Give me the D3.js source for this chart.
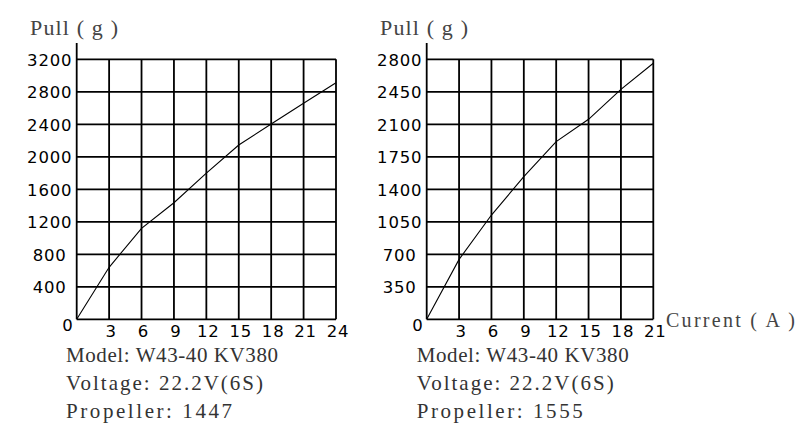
<!DOCTYPE html>
<html><head><meta charset="utf-8">
<script src="https://cdn.jsdelivr.net/npm/d3@7"></script>
<style>html,body{margin:0;padding:0;background:#fff;}svg{display:block;}</style>
</head><body><svg id="c" width="802" height="439"></svg>
<script>
// ---- data ----
const currentA = [0, 3, 6, 9, 12, 15, 18, 21, 24];
const pullA = [0, 640, 1120, 1435, 1800, 2145, 2404, 2658, 2912];
const xTicksA = [3, 6, 9, 12, 15, 18, 21, 24];
const yTicksA = [400, 800, 1200, 1600, 2000, 2400, 2800, 3200];
const infoA = ["Model: W43-40 KV380", "Voltage: 22.2V(6S)", "Propeller: 1447"];

const currentB = [0, 3, 6, 9, 12, 15, 18, 21];
const pullB = [0, 645, 1123, 1536, 1913, 2154, 2477, 2757];
const xTicksB = [3, 6, 9, 12, 15, 18, 21];
const yTicksB = [350, 700, 1050, 1400, 1750, 2100, 2450, 2800];
const infoB = ["Model: W43-40 KV380", "Voltage: 22.2V(6S)", "Propeller: 1555"];

const yTitle = "Pull ( g )";
const xTitle = "Current ( A )";

const svg = d3.select("#c");
const plotTop = 59.3, plotBottom = 319.3;
const tickFont = "'DejaVu Sans', sans-serif";
const textFont = "'Liberation Serif', serif";
const infoWidths = [212, 197, 166];

function chart(cfg) {
  const x = d3.scaleLinear().domain([0, cfg.xMax]).range([cfg.left, cfg.right]);
  const y = d3.scaleLinear().domain([0, cfg.yMax]).range([plotBottom, plotTop]);
  const g = svg.append("g");
  g.selectAll(".vg").data(cfg.xTicks).join("line")
    .attr("x1", d => x(d)).attr("x2", d => x(d))
    .attr("y1", plotTop).attr("y2", plotBottom)
    .attr("stroke", "#000").attr("stroke-width", 1.8);
  g.selectAll(".hg").data([0].concat(cfg.yTicks)).join("line")
    .attr("x1", cfg.left).attr("x2", cfg.right)
    .attr("y1", d => y(d)).attr("y2", d => y(d))
    .attr("stroke", "#000").attr("stroke-width", 1.8);
  g.append("line").attr("x1", cfg.left).attr("x2", cfg.left)
    .attr("y1", 43).attr("y2", plotBottom)
    .attr("stroke", "#000").attr("stroke-width", 1.8);
  g.selectAll(".yl").data(cfg.yTicks).join("text")
    .attr("x", cfg.left - 27).attr("y", d => y(d) + 6.5)
    .attr("text-anchor", "middle")
    .attr("font-family", tickFont).attr("font-size", 16.5)
    .attr("letter-spacing", 0.8)
    .attr("fill", "#000").text(d => d);
  g.append("text").attr("x", cfg.left - 4).attr("y", plotBottom + 12)
    .attr("text-anchor", "end")
    .attr("font-family", tickFont).attr("font-size", 16.5)
    .attr("fill", "#000").text("0");
  g.selectAll(".xl").data(cfg.xTicks).join("text")
    .attr("x", d => x(d) + 2).attr("y", plotBottom + 18)
    .attr("text-anchor", "middle")
    .attr("font-family", tickFont).attr("font-size", 16.5)
    .attr("letter-spacing", 0.8)
    .attr("fill", "#000").text(d => d);
  const line = d3.line().x(d => x(d[0])).y(d => y(d[1]));
  g.append("path").datum(cfg.xs.map((v, i) => [v, cfg.ys[i]]))
    .attr("d", line).attr("fill", "none")
    .attr("stroke", "#000").attr("stroke-width", 1.1);
  g.append("text").attr("x", cfg.titleX).attr("y", 35)
    .attr("font-family", textFont).attr("font-size", 22)
    .attr("textLength", 88).attr("lengthAdjust", "spacing")
    .attr("fill", "#444").text(yTitle);
  g.selectAll(".info").data(cfg.info).join("text")
    .attr("x", cfg.infoX).attr("y", (d, i) => [362, 390, 417.5][i])
    .attr("font-family", textFont).attr("font-size", 21)
    .attr("textLength", (d, i) => infoWidths[i]).attr("lengthAdjust", "spacing")
    .attr("fill", "#333").text(d => d);
  return x;
}

chart({left: 76.7, right: 336, xMax: 24, yMax: 3200, xTicks: xTicksA, yTicks: yTicksA,
  xs: currentA, ys: pullA, info: infoA, titleX: 30, infoX: 66});
chart({left: 426.7, right: 653.3, xMax: 21, yMax: 2800, xTicks: xTicksB, yTicks: yTicksB,
  xs: currentB, ys: pullB, info: infoB, titleX: 380, infoX: 416.7});

svg.append("text").attr("x", 666).attr("y", 327)
  .attr("font-family", textFont).attr("font-size", 20)
  .attr("textLength", 129).attr("lengthAdjust", "spacing")
  .attr("fill", "#444").text(xTitle);
</script></body></html>
